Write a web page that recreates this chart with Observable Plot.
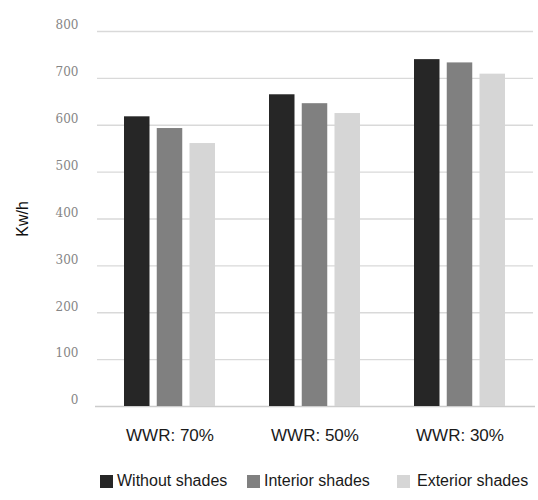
<!DOCTYPE html>
<html><head><meta charset="utf-8">
<script src="https://cdn.jsdelivr.net/npm/d3@7"></script>
<script src="https://cdn.jsdelivr.net/npm/@observablehq/plot@0.6"></script>
<style>
body{margin:0;background:#fff;}
#chart svg{display:block;}
g[aria-label="y-axis label"] text{font-family:"Liberation Sans",Arial,sans-serif;font-size:16px;fill:#111;}
#legend{position:relative;height:45px;font-family:"Liberation Sans",Arial,sans-serif;font-size:16px;color:#1a1a1a;}
#legend .item{position:absolute;top:17px;display:flex;align-items:center;white-space:nowrap;}
#legend .sw{width:13px;height:13px;margin-right:4px;}
</style></head><body>
<div id="chart"></div><div id="legend"></div>
<script>
const groups = ["WWR: 70%", "WWR: 50%", "WWR: 30%"];
const series = ["Without shades", "Interior shades", "Exterior shades"];
const withoutShades = [618, 665, 740];
const interiorShades = [593, 646, 733];
const exteriorShades = [561, 625, 709];
const seriesColors = ["#262626", "#808080", "#d6d6d6"];
const yTicks = [0, 100, 200, 300, 400, 500, 600, 700, 800];

const valuesBySeries = [withoutShades, interiorShades, exteriorShades];

// bar layout inside each group band: 3 bars of equal width with a gap of 20% of the step
const barInsets = [[0, 65.5], [32.75, 32.75], [65.5, 0]];

const barMarks = series.map((s, j) =>
  Plot.barY(groups.map((g, i) => ({group: g, series: s, value: valuesBySeries[j][i]})), {
    x: "group", y: "value", fill: seriesColors[j],
    insetLeft: barInsets[j][0], insetRight: barInsets[j][1]
  })
);

const chart = Plot.plot({
  width: 538, height: 455,
  marginLeft: 97, marginRight: 5, marginTop: 31, marginBottom: 49,
  x: {domain: groups, paddingInner: 0.37, paddingOuter: 0.185},
  y: {domain: [0, 800]},
  marks: [
    Plot.ruleY(yTicks.slice(1), {stroke: "#d9d9d9", strokeWidth: 1.4}),
    Plot.ruleY([0], {stroke: "#cccccc", strokeWidth: 1.6, insetLeft: -2, insetRight: -2}),
    ...barMarks,
    Plot.text(yTicks, {y: d => d, text: d => String(d), frameAnchor: "left", textAnchor: "end", dx: -19, dy: -6, fontFamily: "'DejaVu Serif', 'Liberation Serif', serif", fontSize: 12, fill: "#858585"}),
    Plot.axisY({ticks: yTicks, tickSize: 0, tickPadding: 19, tickFormat: () => "", label: "Kw/h", labelAnchor: "center", labelArrow: "none", labelOffset: 81}),
    Plot.axisX({tickSize: 0, tickPadding: 22, fontSize: 17, fontFamily: "'Liberation Sans', Arial, sans-serif", fill: "#1a1a1a", label: null})
  ]
});
document.getElementById("chart").appendChild(chart);

const legendLeft = [100, 247, 397];
const legend = document.getElementById("legend");
series.forEach((s, i) => {
  const item = document.createElement("div");
  item.className = "item";
  item.style.left = legendLeft[i] + "px";
  const sw = document.createElement("span");
  sw.className = "sw";
  sw.style.background = seriesColors[i];
  if (i === 2) sw.style.marginRight = "7px";
  const t = document.createElement("span");
  t.textContent = s;
  item.appendChild(sw); item.appendChild(t);
  legend.appendChild(item);
});
</script>
</body></html>
